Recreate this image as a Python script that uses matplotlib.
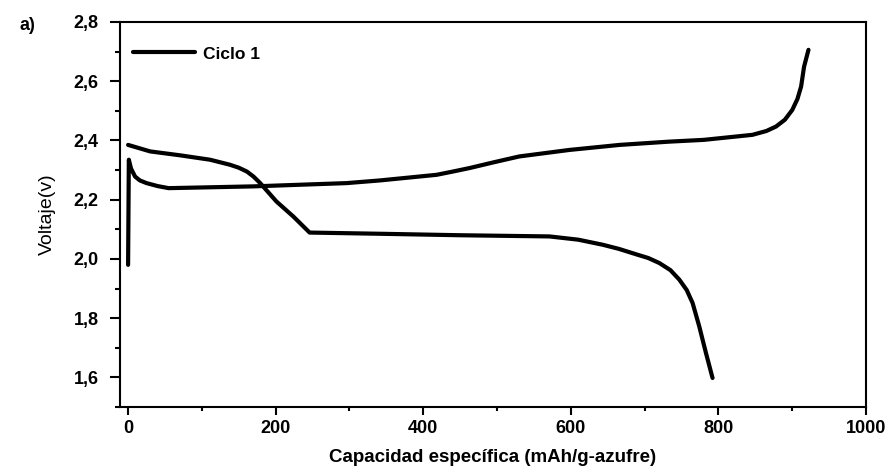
import matplotlib
matplotlib.use('Agg')
import matplotlib.pyplot as plt
from matplotlib.ticker import MultipleLocator, FuncFormatter

plt.rcParams['font.family'] = ['Liberation Sans', 'DejaVu Sans']

# curva de descarga, ciclo 1 (capacidad en mAh/g de azufre, voltaje en V)
cap_descarga = [0, 30, 70, 111, 138, 150, 161, 170, 179, 190, 201, 224, 246,
                341, 450, 571, 610, 643, 665, 688, 705, 720, 735, 747, 757,
                765, 774, 783, 792]
volt_descarga = [2.385, 2.363, 2.350, 2.335, 2.318, 2.308, 2.295, 2.278, 2.256,
                 2.225, 2.194, 2.143, 2.089, 2.085, 2.080, 2.076, 2.065, 2.048,
                 2.034, 2.016, 2.003, 1.986, 1.962, 1.930, 1.895, 1.851, 1.772,
                 1.683, 1.598]

# curva de carga, ciclo 1
cap_carga = [0, 1, 4, 9.5, 16, 25, 40, 55, 170, 296, 341, 418, 440, 463, 495,
             530, 598, 666, 733, 780, 846, 865, 878, 890, 900, 907, 912, 916,
             922]
volt_carga = [1.980, 2.335, 2.305, 2.278, 2.265, 2.256, 2.246, 2.239, 2.245,
              2.256, 2.265, 2.284, 2.295, 2.307, 2.326, 2.346, 2.368, 2.385,
              2.396, 2.402, 2.419, 2.432, 2.447, 2.470, 2.503, 2.540, 2.582,
              2.649, 2.706]

fig = plt.figure(figsize=(8.92, 4.70), dpi=100)
ax = fig.add_axes([0.1345, 0.134, 0.8364, 0.8192])

ax.plot(cap_descarga, volt_descarga, color='black', lw=3, label='Ciclo 1',
        solid_capstyle='round', solid_joinstyle='round')
ax.plot(cap_carga, volt_carga, color='black', lw=3,
        solid_capstyle='round', solid_joinstyle='round')

ax.set_xlim(-11, 1000)
ax.set_ylim(1.5, 2.8)

ax.xaxis.set_major_locator(MultipleLocator(200))
ax.xaxis.set_minor_locator(MultipleLocator(100))
ax.yaxis.set_major_locator(MultipleLocator(0.2))
ax.yaxis.set_minor_locator(MultipleLocator(0.1))
ax.yaxis.set_major_formatter(FuncFormatter(lambda v, p: f'{v:.1f}'.replace('.', ',')))
ax.xaxis.set_major_formatter(FuncFormatter(lambda v, p: f'{v:.0f}'))

for s in ax.spines.values():
    s.set_linewidth(1.5)

ax.tick_params(which='major', direction='out', width=1.5, labelsize=13)
ax.tick_params(axis='y', which='major', length=7.2, pad=8)
ax.tick_params(axis='x', which='major', length=5.7, pad=3.5)
ax.tick_params(axis='y', which='minor', direction='out', width=1.5, length=3.6)
ax.tick_params(axis='x', which='minor', direction='out', width=1.5, length=3)
for lbl in ax.get_xticklabels() + ax.get_yticklabels():
    lbl.set_fontweight('bold')

ax.set_xlabel('Capacidad específica (mAh/g-azufre)', fontsize=13.5,
              fontweight='bold', labelpad=9)
ax.set_ylabel('Voltaje(v)', fontsize=14, labelpad=13)

ax.legend(loc='center left', bbox_to_anchor=(0.0174, 0.917), frameon=False,
          borderpad=0, borderaxespad=0, handlelength=3.6, handletextpad=0.45,
          prop={'weight': 'bold', 'size': 12.5})

fig.text(27 / 892, 1 - 25 / 470, 'a)', fontsize=13, fontweight='bold',
         ha='center', va='center')

fig.savefig('out.png', dpi=100)
